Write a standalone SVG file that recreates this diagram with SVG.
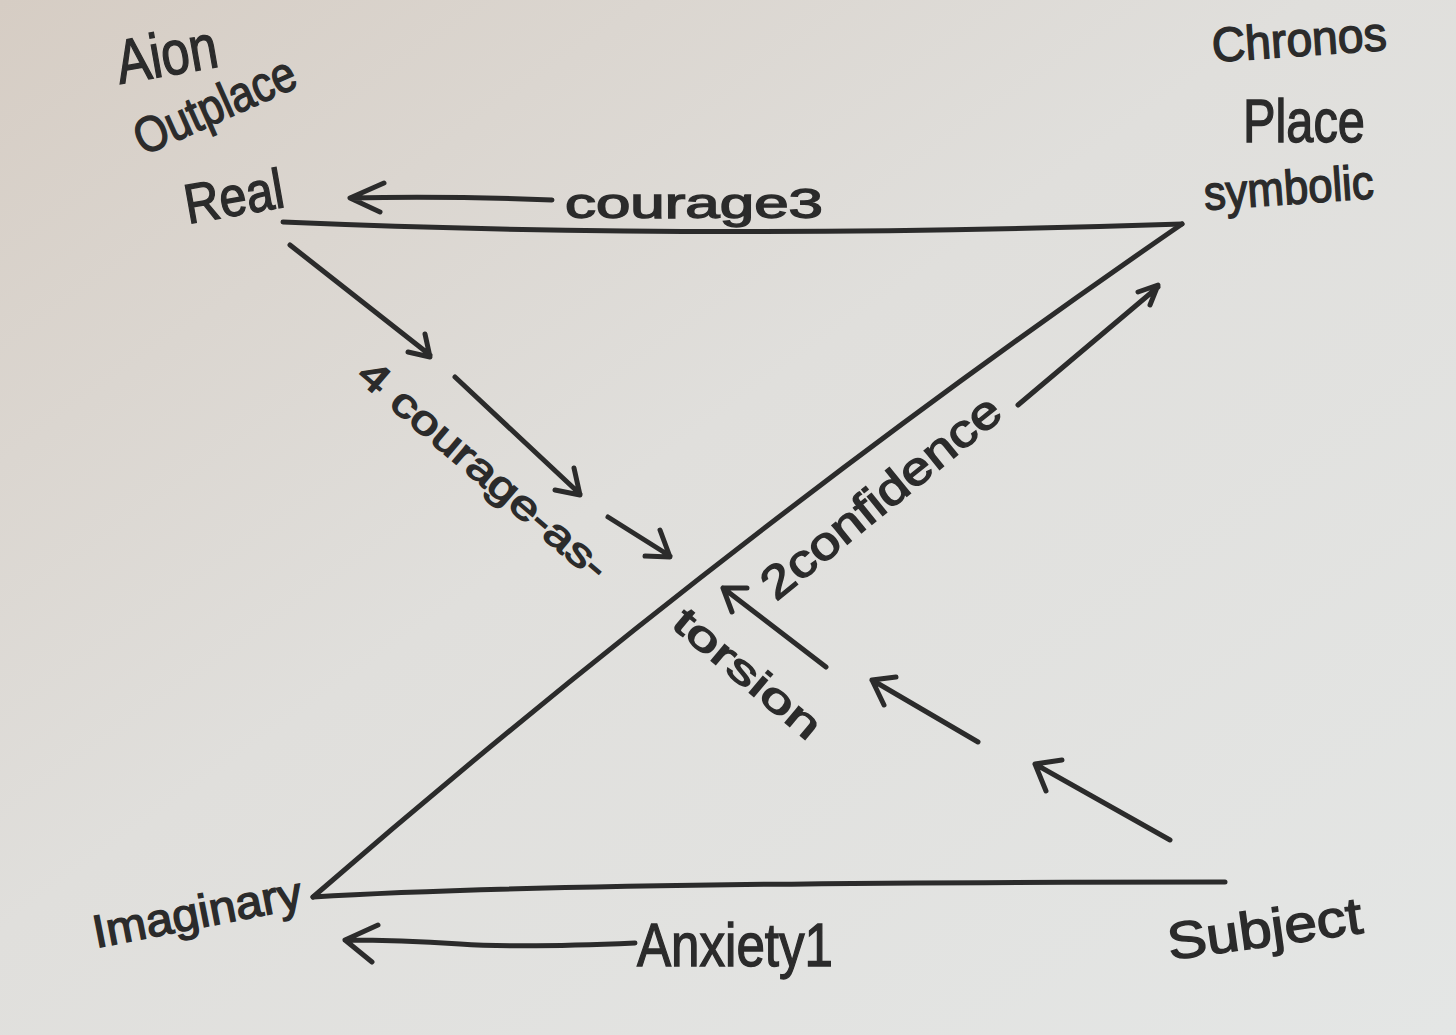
<svg xmlns="http://www.w3.org/2000/svg" width="1456" height="1035" viewBox="0 0 1456 1035">
<defs>
<linearGradient id="paper" x1="0" y1="0" x2="1" y2="1">
<stop offset="0" stop-color="#d6cdc4"/>
<stop offset="0.45" stop-color="#e0dfdc"/>
<stop offset="1" stop-color="#e4e6e5"/>
</linearGradient>
<style>
.ink{fill:none;stroke:#2b2b2b;stroke-width:5;stroke-linecap:round;stroke-linejoin:round}
.t{font-family:"Liberation Sans","DejaVu Sans",sans-serif;fill:#2b2b2b;stroke:#2b2b2b;stroke-width:1.4}
</style>
</defs>
<rect width="1456" height="1035" fill="url(#paper)"/>

<g id="connectors">
<path class="ink" d="M283,222 Q700,240 1182,224"/>
<path class="ink" d="M1182,224 Q729,536 313,897"/>
<path class="ink" d="M313,897 Q560,882 1225,882"/>
<!-- courage3 -->
<path class="ink" d="M552,200 Q450,196 350,198 M384,183 L350,198 L380,212"/>
<text class="t" x="565" y="218" font-size="42" textLength="258" lengthAdjust="spacingAndGlyphs">courage3</text>
<!-- Anxiety1 -->
<path class="ink" d="M635,943 Q520,948 460,944 Q400,940 345,940 M378,925 L345,940 L372,962"/>
<text class="t" x="637" y="966" font-size="62" textLength="196" lengthAdjust="spacingAndGlyphs">Anxiety1</text>
<!-- courage-as-torsion arrows -->
<path class="ink" d="M290,245 L430,355 M408,352 L430,357 L425,334"/>
<path class="ink" d="M455,377 L580,494 M555,490 L580,495 L574,468"/>
<path class="ink" d="M608,517 L670,556 M645,556 L670,557 L660,530"/>
<text class="t" font-size="40" transform="translate(355,378) rotate(40.5)" textLength="315" lengthAdjust="spacingAndGlyphs">4 courage-as-</text>
<text class="t" font-size="40" transform="translate(670,626) rotate(40)" textLength="180" lengthAdjust="spacingAndGlyphs">torsion</text>
<!-- confidence -->
<path class="ink" d="M1018,405 L1158,287 M1138,292 L1158,285 L1150,305"/>
<text class="t" font-size="46" transform="translate(776,602) rotate(-39)" textLength="295" lengthAdjust="spacingAndGlyphs">2confidence</text>
<!-- subject arrows -->
<path class="ink" d="M1170,840 L1035,764 M1062,760 L1035,764 L1046,791"/>
<path class="ink" d="M978,742 L872,680 M896,677 L872,680 L884,705"/>
<path class="ink" d="M826,667 L723,588 M747,588 L723,588 L732,612"/>
</g>

<g id="node-real">
<text class="t" font-size="62" transform="translate(120,84) rotate(-10)" textLength="102" lengthAdjust="spacingAndGlyphs">Aion</text>
<text class="t" font-size="50" transform="translate(143,156) rotate(-24)" textLength="172" lengthAdjust="spacingAndGlyphs">Outplace</text>
<text class="t" font-size="56" transform="translate(188,224) rotate(-10)" textLength="100" lengthAdjust="spacingAndGlyphs">Real</text>
</g>

<g id="node-symbolic">
<text class="t" font-size="48" transform="translate(1213,62) rotate(-4)" textLength="175" lengthAdjust="spacingAndGlyphs">Chronos</text>
<text class="t" font-size="62" x="1243" y="142" textLength="122" lengthAdjust="spacingAndGlyphs">Place</text>
<text class="t" font-size="48" transform="translate(1205,210) rotate(-4)" textLength="170" lengthAdjust="spacingAndGlyphs">symbolic</text>
</g>

<g id="node-imaginary">
<text class="t" font-size="46" transform="translate(96,948) rotate(-11)" textLength="212" lengthAdjust="spacingAndGlyphs">Imaginary</text>
</g>

<g id="node-subject">
<text class="t" font-size="52" transform="translate(1170,960) rotate(-8)" textLength="196" lengthAdjust="spacingAndGlyphs">Subject</text>
</g>
</svg>
